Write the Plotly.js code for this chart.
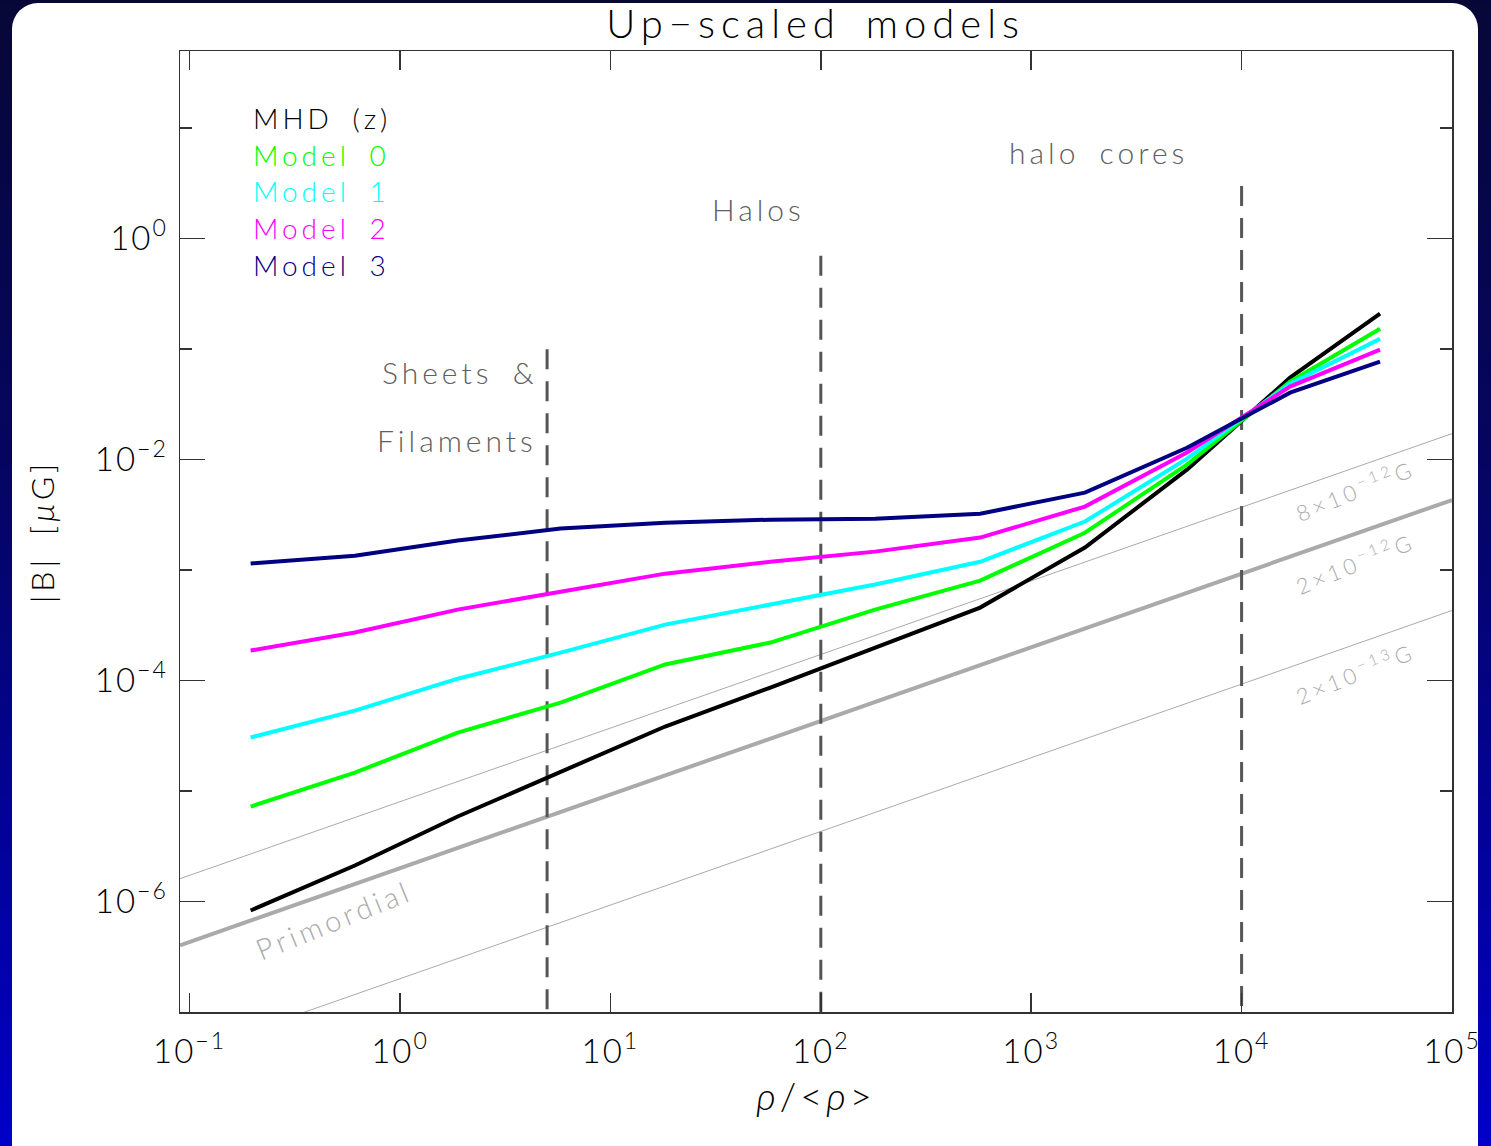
<!DOCTYPE html>
<html>
<head>
<meta charset="utf-8">
<script src="https://cdn.plot.ly/plotly-3.0.1.min.js"></script>
<style>
  html, body { margin: 0; padding: 0; width: 1491px; height: 1146px; overflow: hidden;
    background: linear-gradient(to bottom, #070737 0%, #050560 40%, #0000c8 100%); }
  #frame { position: absolute; left: 12px; top: 3px; width: 1466px; height: 1170px;
    background: #ffffff; border-radius: 26px; }
  #plot { position: absolute; left: 0; top: 0; width: 1491px; height: 1146px; }
  .annotation-text, .xtitle, .ytitle { letter-spacing: 4px; word-spacing: 8px; }
  .gtitle { letter-spacing: 6px; word-spacing: 8px; }
  .xtick text, .ytick text { letter-spacing: 2px; }
</style>
</head>
<body>
<div id="frame"></div>
<div id="plot"></div>
<script>
// ---- data ----
const rho = [0.195, 0.61, 1.88, 5.8, 18.2, 57.6, 181, 572, 1800, 5500, 17000, 45500];
const bMHD    = [8.3e-7, 2.12e-6, 5.88e-6, 1.50e-5, 3.84e-5, 8.65e-5, 1.99e-4, 4.58e-4, 1.60e-3, 8.12e-3, 0.0552, 0.2096];
const bModel0 = [7.24e-6, 1.47e-5, 3.38e-5, 6.32e-5, 1.40e-4, 2.21e-4, 4.39e-4, 8.04e-4, 2.18e-3, 9.01e-3, 0.0508, 0.153];
const bModel1 = [3.05e-5, 5.35e-5, 1.04e-4, 1.79e-4, 3.21e-4, 4.88e-4, 7.40e-4, 1.19e-3, 2.75e-3, 1.02e-2, 0.0487, 0.124];
const bModel2 = [1.87e-4, 2.72e-4, 4.39e-4, 6.38e-4, 9.29e-4, 1.19e-3, 1.47e-3, 1.97e-3, 3.76e-3, 1.16e-2, 0.0458, 0.0989];
const bModel3 = [1.15e-3, 1.35e-3, 1.85e-3, 2.38e-3, 2.69e-3, 2.86e-3, 2.92e-3, 3.24e-3, 5.03e-3, 1.28e-2, 0.0404, 0.0771];

const seriesNames = ["MHD (z)", "Model 0", "Model 1", "Model 2", "Model 3"];

// reference field lines (straight in log-log), endpoints
const rhoRef = [0.09, 1e5];
const bPrimordial = [4.02e-7, 4.31e-3];
const bRef8e12 = [1.61e-6, 1.72e-2];
const bRef2e13 = [4.02e-8, 4.31e-4];
const refLabels = ["8×10<sup>−12</sup>G", "2×10<sup>−12</sup>G", "2×10<sup>−13</sup>G", "Primordial"];

// vertical region boundaries
const boundaryRho = [5, 100, 1e4];
const boundaryTop = [0.1, 0.7, 3];
const boundaryBottom = 1e-7;
const regionLabels = ["Sheets &", "Filaments", "Halos", "halo cores"];

// axis ticks
const xTickVals = [0.1, 1, 10, 100, 1000, 1e4, 1e5];
const xTickText = ["10<sup>−1</sup>", "10<sup>0</sup>", "10<sup>1</sup>", "10<sup>2</sup>", "10<sup>3</sup>", "10<sup>4</sup>", "10<sup>5</sup>"];
const yTickVals = [1e-6, 1e-4, 1e-2, 1];
const yTickText = ["10<sup>−6</sup>", "10<sup>−4</sup>", "10<sup>−2</sup>", "10<sup>0</sup>"];
const yMinorVals = [1e-5, 1e-3, 0.1, 10];

// ---- styles ----
const seriesColors = ["#000000", "#00ff00", "#00ffff", "#ff00ff", "#000080"];
const seriesData = [bMHD, bModel0, bModel1, bModel2, bModel3];
const FONT = "Lato, 'DejaVu Sans', sans-serif";
const refGray = "#aaaaaa";
const textGray = "#606060";

const traces = [];
traces.push({x: rhoRef, y: bRef8e12, mode: "lines", line: {color: refGray, width: 1}, hoverinfo: "skip"});
traces.push({x: rhoRef, y: bRef2e13, mode: "lines", line: {color: refGray, width: 1}, hoverinfo: "skip"});
traces.push({x: rhoRef, y: bPrimordial, mode: "lines", line: {color: refGray, width: 4}, hoverinfo: "skip"});
boundaryRho.forEach((r, i) => {
  traces.push({x: [r, r], y: [boundaryTop[i], boundaryBottom], mode: "lines",
    line: {color: "#555555", width: 3, dash: "20px,12px"}, hoverinfo: "skip"});
});
seriesData.forEach((d, i) => {
  traces.push({x: rho, y: d, mode: "lines", name: seriesNames[i],
    line: {color: seriesColors[i], width: 4}});
});

const lg = v => Math.log10(v);
const annotations = [];
// legend-like coloured labels
const legendY = [1.095, 0.760, 0.434, 0.100, -0.235];
seriesNames.forEach((n, i) => {
  annotations.push({x: -0.71, y: legendY[i], xref: "x", yref: "y", text: n, showarrow: false,
    xanchor: "left", yanchor: "middle", font: {family: FONT, size: 28, color: seriesColors[i], weight: 300}});
});
// region labels
const regionPos = [[0.287, -1.204], [0.273, -1.819], [1.703, 0.271], [3.318, 0.787]];
regionLabels.forEach((t, i) => {
  annotations.push({x: regionPos[i][0], y: regionPos[i][1], text: t, showarrow: false,
    xanchor: "center", yanchor: "middle", font: {family: FONT, size: 30, color: textGray, weight: 300}});
});
// reference line labels
const refPos = [[4.539, -2.271, 22], [4.539, -2.932, 22], [4.539, -3.928, 22], [-0.316, -6.163, 29]];
refLabels.forEach((t, i) => {
  annotations.push({x: refPos[i][0], y: refPos[i][1], text: t, showarrow: false, textangle: -22,
    xanchor: "center", yanchor: "middle", font: {family: FONT, size: refPos[i][2], color: refGray, weight: 300}});
});

const axisCommon = {
  type: "log", showgrid: false, zeroline: false, showline: true, linecolor: "#333333", linewidth: 1.5,
  mirror: "allticks", ticks: "inside", tickcolor: "#333333", tickwidth: 1.5, tickmode: "array",
  tickfont: {family: FONT, size: 33, color: "#000000", weight: 300}
};

const layout = {
  width: 1491, height: 1146,
  margin: {l: 180, r: 39, t: 51, b: 134},
  paper_bgcolor: "rgba(0,0,0,0)", plot_bgcolor: "#ffffff",
  showlegend: false,
  title: {text: "Up−scaled models", x: 0.547, xanchor: "center", y: 0.979, yanchor: "middle", yref: "container",
    font: {family: FONT, size: 40, color: "#000000", weight: 300}},
  xaxis: Object.assign({}, axisCommon, {
    range: [lg(0.09), 5], tickvals: xTickVals, ticktext: xTickText, ticklen: 19,
    ticklabelstandoff: 10,
    title: {text: "<i>ρ</i>/&lt;<i>ρ</i>&gt;", standoff: 14, font: {family: FONT, size: 38, color: "#000000", weight: 300}}
  }),
  yaxis: Object.assign({}, axisCommon, {
    range: [-7, lg(50)], tickvals: yTickVals, ticktext: yTickText, ticklen: 25,
    ticklabelstandoff: 4,
    minor: {tickmode: "array", tickvals: yMinorVals, ticks: "inside", ticklen: 12, tickcolor: "#333333", tickwidth: 1.5},
    title: {text: "|B| [<i>μ</i>G]", standoff: 30, font: {family: FONT, size: 32, color: "#000000", weight: 300}}
  }),
  annotations: annotations
};

Plotly.newPlot("plot", traces, layout, {displayModeBar: false, staticPlot: true});
</script>
</body>
</html>
